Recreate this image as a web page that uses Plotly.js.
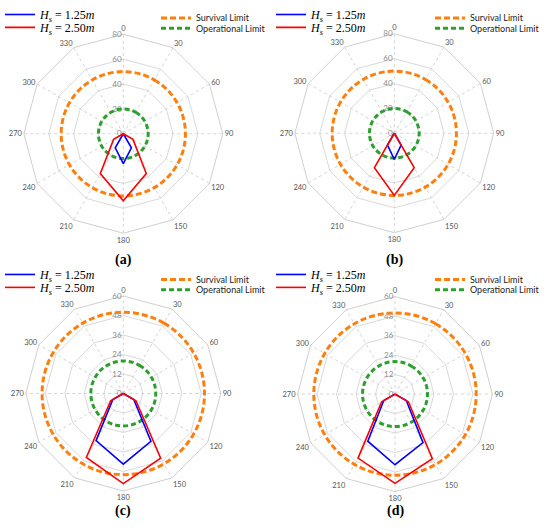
<!DOCTYPE html>
<html><head><meta charset="utf-8">
<script src="https://cdn.plot.ly/plotly-3.0.1.min.js"></script>
<style>html,body{margin:0;padding:0;background:#fff}#chart{width:550px;height:532px}</style>
</head><body><div id="chart"></div>
<script>
const W = 550, H = 532;
const directions = ['0', '30', '60', '90', '120', '150', '180', '210', '240', '270', '300', '330'];
const panelLabels = ['(a)', '(b)', '(c)', '(d)'];
const seriesNames = ['<i>H<sub>s</sub></i> = 1.25<i>m</i>', '<i>H<sub>s</sub></i> = 2.50<i>m</i>'];
const limitNames = ['Survival Limit', 'Operational Limit'];
const survivalLimit = 50;
const operationalLimit = 20;
const radialMax = [80, 80, 60, 60];
const radialStep = [20, 20, 12, 12];
const hs125_a = [0, 0, 0, 0, 0, 13, 24, 13, 0, 0, 0, 0];
const hs250_a = [0, 0, 0, 0, 9, 37, 54, 37, 9, 0, 0, 0];
const hs125_b = [0, 0, 0, 0, 0, 11, 21, 11, 0, 0, 0, 0];
const hs250_b = [0, 0, 0, 0, 0, 32, 50, 32, 0, 0, 0, 0];
const hs125_c = [0, 0, 0, 0, 7.5, 34, 43.5, 33.5, 7.5, 0, 0, 0];
const hs250_c = [0, 0, 0, 0, 9, 46, 55.5, 45.5, 9, 0, 0, 0];
const hs125_d = [0, 0, 0, 0, 8, 34.5, 43.5, 33.5, 8, 0, 0, 0];
const hs250_d = [0, 0, 0, 0, 9.5, 46, 55, 45.5, 9.5, 0, 0, 0];

const panelSeries = [[hs125_a, hs250_a], [hs125_b, hs250_b], [hs125_c, hs250_c], [hs125_d, hs250_d]];
const seriesColors = ['#0000ff', '#ff0000'];
const limitColors = ['#ff7f0e', '#2ca02c'];
const limitValues = [survivalLimit, operationalLimit];
const limitDash = ['6px,3px', '5px,3px'];

// layout geometry (pixels)
const polarBox = [
  {cx: 123.3, cy: 131.5, r: 100},
  {cx: 394.3, cy: 131, r: 100},
  {cx: 123.3, cy: 392.7, r: 98},
  {cx: 395, cy: 393.3, r: 98}
];
const leftLegendPos = [
  {x: 0, y: [11.5, 24.5]}, {x: 271, y: [11.5, 24.5]},
  {x: 0, y: [273, 286]}, {x: 271, y: [273, 286]}
];
const rightLegendPos = [
  {x: 156, y: [15, 25.5]}, {x: 430, y: [15, 25.5]},
  {x: 156, y: [278, 288.5]}, {x: 430, y: [278, 288.5]}
];
const labelPos = [{x: 123, y: 258}, {x: 394, y: 258}, {x: 123, y: 511}, {x: 395, y: 511}];

const closeLoop = arr => arr.concat([arr[0]]);
const thetaClosed = closeLoop(directions);

const traces = [];
const layout = {
  width: W, height: H,
  margin: {l: 0, r: 0, t: 0, b: 0},
  paper_bgcolor: '#ffffff',
  showlegend: true,
  annotations: []
};

let legendCount = 0;
function nextLegend(xpx, ypx, anchor, font) {
  legendCount += 1;
  const id = legendCount === 1 ? 'legend' : 'legend' + legendCount;
  layout[id] = {
    x: xpx / W, y: 1 - ypx / H, xanchor: anchor, yanchor: 'middle',
    bgcolor: 'rgba(0,0,0,0)', borderwidth: 0, font: font, itemwidth: 30,
    itemclick: false, itemdoubleclick: false
  };
  return id;
}

const mathFont = {family: 'Liberation Serif, DejaVu Serif, serif', size: 12, color: '#000'};
const limitFont = {family: 'Lato, Open Sans, sans-serif', size: 9, color: '#222'};

panelSeries.forEach((pair, p) => {
  const sub = p === 0 ? 'polar' : 'polar' + (p + 1);
  const box = polarBox[p];
  layout[sub] = {
    domain: {
      x: [(box.cx - box.r) / W, (box.cx + box.r) / W],
      y: [1 - (box.cy + box.r) / H, 1 - (box.cy - box.r) / H]
    },
    bgcolor: 'rgba(0,0,0,0)',
    gridshape: 'linear',
    radialaxis: {
      range: [0, radialMax[p]], tick0: 0, dtick: radialStep[p],
      angle: 90, side: 'counterclockwise', showline: false, ticks: '',
      gridcolor: '#d9d9d9', gridwidth: 1,
      tickfont: {family: 'Lato, Open Sans, sans-serif', size: 8, color: '#8c8c8c'},
      tickangle: 90, layer: 'below traces'
    },
    angularaxis: {
      type: 'category', categoryorder: 'array', categoryarray: directions,
      rotation: 90, direction: 'clockwise',
      showline: true, linecolor: '#d0d0d0', linewidth: 1,
      gridcolor: '#d4d4d4', griddash: 'dot', ticks: '',
      tickfont: {family: 'Lato, Open Sans, sans-serif', size: 7.5, color: '#555'},
      layer: 'below traces'
    }
  };
  // limit circles
  limitValues.forEach((v, k) => {
    traces.push({
      type: 'scatterpolar', subplot: sub, mode: 'lines',
      theta: thetaClosed, r: thetaClosed.map(() => v),
      name: limitNames[k],
      line: {color: limitColors[k], width: 3, dash: limitDash[k], shape: 'spline', smoothing: 1.05},
      legend: nextLegend(rightLegendPos[p].x, rightLegendPos[p].y[k], 'left', limitFont),
      hoverinfo: 'skip'
    });
  });
  pair.forEach((vals, k) => {
    traces.push({
      type: 'scatterpolar', subplot: sub, mode: 'lines',
      theta: thetaClosed, r: closeLoop(vals),
      name: seriesNames[k],
      line: {color: seriesColors[k], width: 1.6},
      legend: nextLegend(leftLegendPos[p].x, leftLegendPos[p].y[k], 'left', mathFont)
    });
  });
  layout.annotations.push({
    xref: 'paper', yref: 'paper', x: labelPos[p].x / W, y: 1 - labelPos[p].y / H,
    xanchor: 'center', yanchor: 'middle', showarrow: false,
    text: '<b>' + panelLabels[p] + '</b>',
    font: {family: 'Liberation Serif, DejaVu Serif, serif', size: 14, color: '#000'}
  });
});

Plotly.newPlot('chart', traces, layout, {displayModeBar: false, staticPlot: true});
</script>
</body></html>
